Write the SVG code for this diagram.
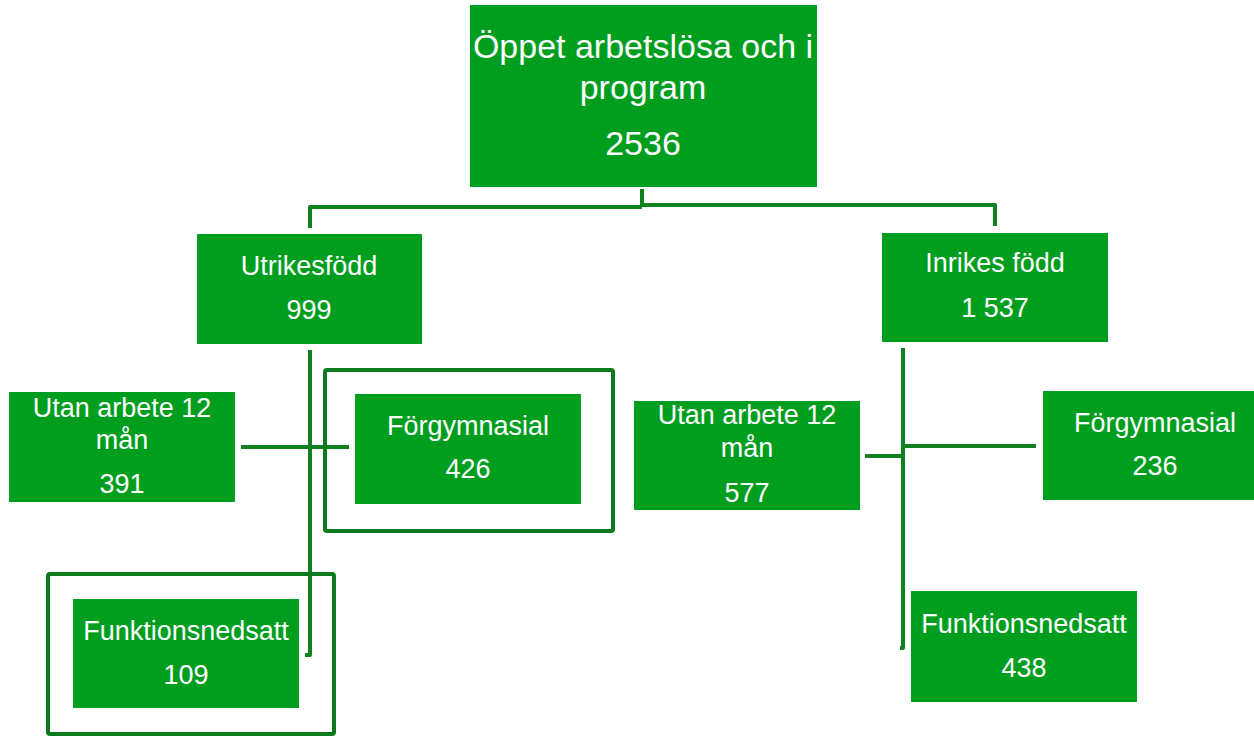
<svg xmlns="http://www.w3.org/2000/svg" width="1254" height="737" viewBox="0 0 1254 737">
<style>
.box{fill:#009e1f;}
.frame{fill:none;stroke:#0b7a1c;stroke-width:4;}
.con{fill:none;stroke:#0f821f;stroke-width:4;stroke-linejoin:round;}
text{font-family:"Liberation Sans",Arial,sans-serif;fill:#ffffff;text-anchor:middle;}
.big{font-size:34px;}
.sm{font-size:27px;}
</style>
<rect width="1254" height="737" fill="#ffffff"/>
<g id="connectors">
<path class="con" d="M310,228 V207 H642 M642,189 V207 M642,205 H995 V226"/>
<path class="con" d="M310,350 V655 H305"/>
<path class="con" d="M241,447 H349"/>
<path class="con" d="M903,348 V648 H900"/>
<path class="con" d="M865,456 H903 M903,446 H1036"/>
</g>
<g id="frames">
<rect class="frame" x="325" y="370" width="288" height="161" rx="2"/>
<rect class="frame" x="48" y="574" width="286" height="160" rx="2"/>
</g>
<g id="node-top">
<rect class="box" x="470" y="5" width="347" height="182"/>
<text class="big" x="643" y="58">Öppet arbetslösa och i</text>
<text class="big" x="643" y="99">program</text>
<text class="big" x="643" y="155">2536</text>
</g>
<g id="node-utrikes">
<rect class="box" x="197" y="234" width="225" height="110"/>
<text class="sm" x="309" y="275">Utrikesfödd</text>
<text class="sm" x="309" y="319">999</text>
</g>
<g id="node-inrikes">
<rect class="box" x="882" y="233" width="226" height="109"/>
<text class="sm" x="995" y="272">Inrikes född</text>
<text class="sm" x="995" y="317">1 537</text>
</g>
<g id="node-utan-left">
<rect class="box" x="9" y="392" width="226" height="110"/>
<text class="sm" x="122" y="417">Utan arbete 12</text>
<text class="sm" x="122" y="449">mån</text>
<text class="sm" x="122" y="493">391</text>
</g>
<g id="node-forgym-left">
<rect class="box" x="355" y="394" width="226" height="110"/>
<text class="sm" x="468" y="435">Förgymnasial</text>
<text class="sm" x="468" y="478">426</text>
</g>
<g id="node-funk-left">
<rect class="box" x="73" y="599" width="226" height="109"/>
<text class="sm" x="186" y="640">Funktionsnedsatt</text>
<text class="sm" x="186" y="684">109</text>
</g>
<g id="node-utan-right">
<rect class="box" x="634" y="401" width="226" height="109"/>
<text class="sm" x="747" y="424">Utan arbete 12</text>
<text class="sm" x="747" y="457">mån</text>
<text class="sm" x="747" y="502">577</text>
</g>
<g id="node-forgym-right">
<rect class="box" x="1043" y="391" width="225" height="109"/>
<text class="sm" x="1155" y="432">Förgymnasial</text>
<text class="sm" x="1155" y="475">236</text>
</g>
<g id="node-funk-right">
<rect class="box" x="911" y="591" width="226" height="111"/>
<text class="sm" x="1024" y="633">Funktionsnedsatt</text>
<text class="sm" x="1024" y="677">438</text>
</g>
</svg>
